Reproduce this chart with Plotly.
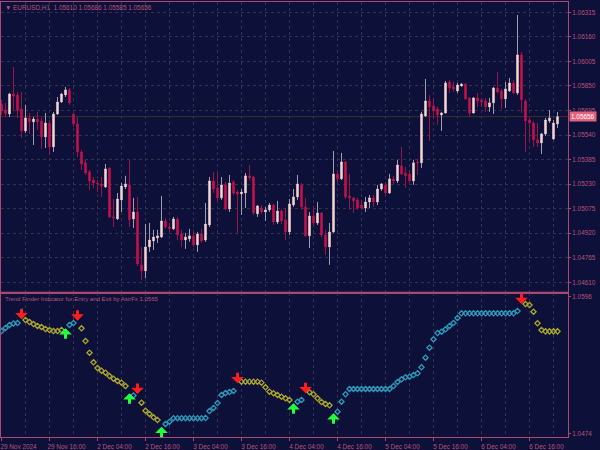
import plotly.graph_objects as go

# ---------------- data ----------------
symbol = "EURUSD,H1"
indicator_name = "Trend Finder Indicator for Entry and Exit by AsirFx"

tick_bars = [0, 12, 24, 36, 48, 60, 72, 84, 96, 108, 120, 132]
tick_labels = ["29 Nov 2024", "29 Nov 16:00", "2 Dec 04:00", "2 Dec 16:00",
               "3 Dec 04:00", "3 Dec 16:00", "4 Dec 04:00", "4 Dec 16:00",
               "5 Dec 04:00", "5 Dec 16:00", "6 Dec 04:00", "6 Dec 16:00"]
grid_bars = [6, 18, 30, 42, 54, 66, 78, 90, 102, 114, 126, 138]
price_ticks = [1.04610, 1.04765, 1.04920, 1.05075, 1.05230, 1.05385,
               1.05540, 1.05695, 1.05850, 1.06005, 1.06160, 1.06315]
ind_ticks = [1.0596, 1.0474]

opens = [1.05736, 1.05698, 1.05673, 1.05799, 1.05793, 1.05705, 1.05566, 1.05648, 1.05623, 1.05641,
         1.05629, 1.05528, 1.05616, 1.05465, 1.05673, 1.05749, 1.05793, 1.05825, 1.05673, 1.05610,
         1.05433, 1.05364, 1.05307, 1.05256, 1.05237, 1.05231, 1.05212, 1.05332, 1.05023, 1.05010,
         1.05130, 1.05212, 1.05225, 1.05010, 1.05054, 1.04720, 1.04682, 1.04833, 1.04871, 1.04890,
         1.04896, 1.04997, 1.04959, 1.04947, 1.05010, 1.04915, 1.04877, 1.04884, 1.04903, 1.04846,
         1.04915, 1.04877, 1.04972, 1.05250, 1.05206, 1.05143, 1.05225, 1.05073, 1.05244, 1.05180,
         1.05168, 1.05174, 1.05282, 1.05275, 1.05042, 1.05079, 1.05054, 1.05067, 1.05098, 1.04991,
         1.05060, 1.05004, 1.04928, 1.05098, 1.05149, 1.05225, 1.05086, 1.04903, 1.05029, 1.04985,
         1.05048, 1.04909, 1.04833, 1.04928, 1.05294, 1.05263, 1.05370, 1.05155, 1.05143, 1.05130,
         1.05098, 1.05079, 1.05117, 1.05143, 1.05117, 1.05199, 1.05225, 1.05174, 1.05263, 1.05250,
         1.05345, 1.05300, 1.05294, 1.05250, 1.05370, 1.05364, 1.05660, 1.05755, 1.05724, 1.05705,
         1.05667, 1.05679, 1.05875, 1.05844, 1.05818, 1.05850, 1.05862, 1.05774, 1.05679, 1.05774,
         1.05762, 1.05755, 1.05717, 1.05743, 1.05837, 1.05818, 1.05768, 1.05818, 1.05869, 1.05806,
         1.06046, 1.05755, 1.05635, 1.05616, 1.05509, 1.05490, 1.05547, 1.05629, 1.05515, 1.05610]
highs = [1.05762, 1.05743, 1.05806, 1.05970, 1.05812, 1.05812, 1.05730, 1.05679, 1.05654, 1.05686,
         1.05648, 1.05679, 1.05635, 1.05686, 1.05780, 1.05806, 1.05844, 1.05837, 1.05679, 1.05654,
         1.05446, 1.05383, 1.05319, 1.05275, 1.05256, 1.05275, 1.05357, 1.05338, 1.05136, 1.05174,
         1.05237, 1.05282, 1.05383, 1.05143, 1.05149, 1.04833, 1.04978, 1.04985, 1.04941, 1.04941,
         1.05155, 1.05016, 1.04985, 1.05023, 1.05023, 1.04941, 1.04922, 1.04947, 1.04928, 1.04928,
         1.04947, 1.05111, 1.05275, 1.05307, 1.05300, 1.05275, 1.05244, 1.05288, 1.05256, 1.05193,
         1.05199, 1.05300, 1.05351, 1.05282, 1.05098, 1.05098, 1.05086, 1.05111, 1.05105, 1.05124,
         1.05073, 1.05079, 1.05136, 1.05199, 1.05288, 1.05237, 1.05143, 1.05054, 1.05092, 1.05117,
         1.05054, 1.04941, 1.04985, 1.05439, 1.05307, 1.05427, 1.05376, 1.05294, 1.05149, 1.05143,
         1.05130, 1.05149, 1.05162, 1.05162, 1.05225, 1.05237, 1.05237, 1.05294, 1.05282, 1.05383,
         1.05465, 1.05338, 1.05319, 1.05383, 1.05389, 1.05686, 1.05894, 1.05793, 1.05774, 1.05717,
         1.05686, 1.05881, 1.05888, 1.05875, 1.05869, 1.05869, 1.05869, 1.05780, 1.05780, 1.05806,
         1.05774, 1.05774, 1.05774, 1.05844, 1.05938, 1.05831, 1.05875, 1.05900, 1.05888, 1.06298,
         1.06065, 1.05768, 1.05648, 1.05629, 1.05616, 1.05553, 1.05648, 1.05698, 1.05635, 1.05686]
lows = [1.05667, 1.05654, 1.05654, 1.05698, 1.05648, 1.05521, 1.05553, 1.05547, 1.05477, 1.05572,
        1.05452, 1.05458, 1.05414, 1.05433, 1.05667, 1.05743, 1.05780, 1.05730, 1.05591, 1.05402,
        1.05319, 1.05288, 1.05193, 1.05206, 1.05180, 1.05149, 1.05206, 1.05016, 1.04959, 1.05004,
        1.05054, 1.05199, 1.04959, 1.04953, 1.04713, 1.04625, 1.04637, 1.04802, 1.04814, 1.04858,
        1.04890, 1.04947, 1.04928, 1.04941, 1.04877, 1.04833, 1.04821, 1.04865, 1.04833, 1.04802,
        1.04858, 1.04865, 1.04959, 1.05174, 1.05117, 1.05130, 1.05067, 1.05054, 1.05162, 1.04922,
        1.05035, 1.05079, 1.05256, 1.05035, 1.05023, 1.05042, 1.04997, 1.05054, 1.04972, 1.04978,
        1.04978, 1.04877, 1.04909, 1.05086, 1.05130, 1.05067, 1.04896, 1.04827, 1.04972, 1.04972,
        1.04896, 1.04783, 1.04720, 1.04922, 1.05244, 1.05256, 1.05136, 1.05067, 1.05048, 1.05067,
        1.05067, 1.05054, 1.05079, 1.05086, 1.05098, 1.05187, 1.05162, 1.05168, 1.05231, 1.05237,
        1.05288, 1.05206, 1.05237, 1.05225, 1.05288, 1.05332, 1.05654, 1.05503, 1.05641, 1.05604,
        1.05566, 1.05679, 1.05806, 1.05812, 1.05806, 1.05844, 1.05762, 1.05654, 1.05679, 1.05717,
        1.05717, 1.05686, 1.05686, 1.05673, 1.05806, 1.05705, 1.05711, 1.05812, 1.05799, 1.05793,
        1.05679, 1.05433, 1.05496, 1.05465, 1.05465, 1.05420, 1.05534, 1.05616, 1.05509, 1.05585]
closes = [1.05692, 1.05676, 1.05799, 1.05784, 1.05695, 1.05566, 1.05648, 1.05623, 1.05641, 1.05623,
          1.05528, 1.05616, 1.05465, 1.05673, 1.05749, 1.05799, 1.05825, 1.05743, 1.05610, 1.05433,
          1.05357, 1.05300, 1.05250, 1.05237, 1.05231, 1.05218, 1.05326, 1.05023, 1.05016, 1.05136,
          1.05218, 1.05231, 1.05004, 1.05054, 1.04726, 1.04682, 1.04833, 1.04877, 1.04896, 1.04903,
          1.04997, 1.04959, 1.04950, 1.05010, 1.04909, 1.04877, 1.04896, 1.04903, 1.04846, 1.04915,
          1.04871, 1.04978, 1.05250, 1.05199, 1.05143, 1.05225, 1.05073, 1.05237, 1.05174, 1.05168,
          1.05180, 1.05282, 1.05269, 1.05048, 1.05092, 1.05054, 1.05067, 1.05098, 1.04991, 1.05060,
          1.04997, 1.04928, 1.05105, 1.05149, 1.05231, 1.05086, 1.04903, 1.05029, 1.04985, 1.05048,
          1.04909, 1.04833, 1.04928, 1.05294, 1.05263, 1.05370, 1.05149, 1.05143, 1.05124, 1.05079,
          1.05079, 1.05117, 1.05143, 1.05117, 1.05199, 1.05231, 1.05174, 1.05263, 1.05250, 1.05351,
          1.05294, 1.05282, 1.05250, 1.05364, 1.05364, 1.05673, 1.05755, 1.05717, 1.05692, 1.05667,
          1.05679, 1.05869, 1.05837, 1.05831, 1.05856, 1.05862, 1.05768, 1.05679, 1.05774, 1.05755,
          1.05749, 1.05717, 1.05743, 1.05837, 1.05812, 1.05768, 1.05831, 1.05869, 1.05806, 1.06046,
          1.05762, 1.05629, 1.05616, 1.05509, 1.05490, 1.05547, 1.05635, 1.05648, 1.05616, 1.05656]

# indicator: trend line values (start bar -> consecutive values)
up_segments = {
    0: [1.05655, 1.05682, 1.05709, 1.05722, 1.05726],
    17: [1.05709, 1.05726],
    33: [1.05082],
    41: [1.04829, 1.04849, 1.04880, 1.04880, 1.04880, 1.04880, 1.04880, 1.04880,
         1.04880, 1.04880, 1.04882],
    52: [1.04944, 1.04971, 1.05015, 1.05087, 1.05104, 1.05113, 1.05122],
    74: [1.05027, 1.05042],
    84: [1.04938, 1.05027, 1.05093, 1.05140, 1.05140, 1.05140, 1.05140, 1.05140,
         1.05140, 1.05140, 1.05140, 1.05140, 1.05140, 1.05140, 1.05166, 1.05202,
         1.05226, 1.05244, 1.05249, 1.05264, 1.05279, 1.05333, 1.05418, 1.05507,
         1.05582, 1.05637, 1.05649, 1.05670, 1.05700, 1.05726, 1.05771, 1.05812,
         1.05812, 1.05812, 1.05812, 1.05812, 1.05812, 1.05812, 1.05812, 1.05812,
         1.05812, 1.05812, 1.05812, 1.05812, 1.05812, 1.05833],
}
down_segments = {
    6: [1.05753, 1.05735, 1.05717, 1.05700, 1.05691, 1.05673, 1.05664, 1.05655,
        1.05655, 1.05664],
    20: [1.05679, 1.05566, 1.05462, 1.05377, 1.05326, 1.05302, 1.05285, 1.05255,
         1.05231, 1.05211, 1.05196, 1.05166],
    35: [1.05018, 1.04947, 1.04918, 1.04888, 1.04864],
    60: [1.05205, 1.05205, 1.05205, 1.05205, 1.05205, 1.05196, 1.05155, 1.05116,
         1.05102, 1.05087, 1.05071, 1.05057, 1.05042],
    77: [1.05111, 1.05093, 1.05057, 1.05024, 1.05007, 1.04995],
    131: [1.05895, 1.05886, 1.05827, 1.05724, 1.05664, 1.05652, 1.05652, 1.05652,
          1.05652],
}
sell_bars = [5, 19, 34, 59, 76, 130]
sell_levels = [1.05759, 1.05747, 1.05095, 1.05190, 1.05102, 1.05895]
buy_bars = [16, 32, 40, 73, 83]
buy_levels = [1.05679, 1.05102, 1.04805, 1.05013, 1.04924]

# ---------------- styles ----------------
BG = "#0d1038"
GRID = "#30324e"
LINE = "#a84a72"
TXT = "#b8547c"
BULL = "#f8d6d6"
BEAR = "#c8124e"
BULL_WICK = "#a29cb2"
BEAR_WICK = "#9a1448"
UP_C = "#2a98b8"
DN_C = "#aaa62a"
FONT = "Liberation Sans, Arial, DejaVu Sans, sans-serif"
FS = 6.4
SPLIT = 0.3317

n = len(opens)
bars = list(range(n))


def build_line(segments):
    vals = [None] * n
    for start, seg in segments.items():
        for k, v in enumerate(seg):
            vals[start + k] = v
    return vals


up_line = build_line(up_segments)
down_line = build_line(down_segments)

body_hi = [max(o, c) for o, c in zip(opens, closes)]
body_lo = [min(o, c) for o, c in zip(opens, closes)]


def wick_xy(bull):
    xs, ys = [], []
    for i in bars:
        if (closes[i] >= opens[i]) != bull:
            continue
        xs += [i, i, None, i, i, None]
        ys += [highs[i], body_hi[i], None, body_lo[i], lows[i], None]
    return xs, ys


fig = go.Figure()
for bull, col in [(True, BULL_WICK), (False, BEAR_WICK)]:
    wx, wy = wick_xy(bull)
    fig.add_trace(go.Scatter(x=wx, y=wy, mode="lines", line=dict(color=col, width=1),
                             hoverinfo="skip", xaxis="x", yaxis="y"))

fig.add_trace(go.Candlestick(
    x=bars, open=opens, close=closes, high=body_hi, low=body_lo,
    increasing=dict(line=dict(color=BULL, width=1), fillcolor=BULL),
    decreasing=dict(line=dict(color=BEAR, width=1), fillcolor=BEAR),
    whiskerwidth=0, xaxis="x", yaxis="y"))

fig.add_trace(go.Scatter(x=bars, y=up_line, mode="markers", xaxis="x2", yaxis="y2",
                         marker=dict(symbol="diamond-open", size=4, color=UP_C,
                                     line=dict(color=UP_C, width=1.3))))
fig.add_trace(go.Scatter(x=bars, y=down_line, mode="markers", xaxis="x2", yaxis="y2",
                         marker=dict(symbol="diamond-open", size=4, color=DN_C,
                                     line=dict(color=DN_C, width=1.3))))

annotations = []
for b, lv in zip(sell_bars, sell_levels):
    annotations.append(dict(x=b, y=lv, xref="x2", yref="y2", text="", showarrow=True,
                            arrowhead=1, arrowsize=0.7, arrowwidth=3, arrowcolor="#ff1c1c",
                            ax=0, ay=-12, standoff=0))
for b, lv in zip(buy_bars, buy_levels):
    annotations.append(dict(x=b, y=lv, xref="x2", yref="y2", text="", showarrow=True,
                            arrowhead=1, arrowsize=0.7, arrowwidth=3, arrowcolor="#22ff3c",
                            ax=0, ay=12, standoff=0))

header = (f"\u25BC {symbol}  {opens[-1]:.5f} {highs[-1]:.5f} "
          f"{lows[-1]:.5f} {closes[-1]:.5f}")
annotations.append(dict(x=0, y=1, xref="paper", yref="paper", xanchor="left", yanchor="top",
                        xshift=2, yshift=0, text=header, showarrow=False,
                        font=dict(size=FS, color=TXT, family=FONT)))
annotations.append(dict(x=0, y=SPLIT, xref="paper", yref="paper", xanchor="left",
                        yanchor="top", xshift=2, yshift=-1,
                        text=f"{indicator_name} {down_line[-1]:.4f}", showarrow=False,
                        font=dict(size=6, color=TXT, family=FONT)))
annotations.append(dict(x=1, y=closes[-1], xref="paper", yref="y", xanchor="left",
                        yanchor="middle", xshift=1, text=f"{closes[-1]:.5f}",
                        showarrow=False, bgcolor="#e0627c", borderpad=1,
                        font=dict(size=FS, color="#ffffff", family=FONT)))

shapes = [
    dict(type="line", xref="paper", yref="y", x0=0, x1=1, y0=closes[-1], y1=closes[-1],
         line=dict(color="#3e302c", width=1), layer="below"),
    dict(type="line", xref="paper", yref="paper", x0=0, x1=1, y0=SPLIT, y1=SPLIT,
         line=dict(color=LINE, width=2)),
]

xgrid = dict(showgrid=True, gridcolor=GRID, griddash="dot", gridwidth=1,
             minor=dict(tickmode="array", tickvals=grid_bars, showgrid=True,
                        gridcolor=GRID, griddash="dot", gridwidth=1),
             showline=True, mirror=True, linecolor=LINE, linewidth=1, zeroline=False,
             range=[-0.125, 141.625], tickmode="array", tickvals=tick_bars)

fig.update_layout(
    width=600, height=450, margin=dict(l=1, r=32, t=2, b=13),
    paper_bgcolor=BG, plot_bgcolor=BG, showlegend=False, boxgap=0.5,
    font=dict(family=FONT, size=FS, color=TXT),
    xaxis=dict(domain=[0, 1], anchor="y", showticklabels=False, ticks="",
               rangeslider=dict(visible=False), **xgrid),
    xaxis2=dict(domain=[0, 1], anchor="y2", matches="x", ticktext=tick_labels,
                ticks="outside", ticklen=3, tickcolor=LINE, ticklabelshift=17,
                ticklabeloverflow="allow",
                tickfont=dict(size=FS, color=TXT), **xgrid),
    yaxis=dict(domain=[SPLIT, 1], anchor="x", side="right", range=[1.04544, 1.06380],
               tickmode="array", tickvals=price_ticks, tickformat=".5f",
               showgrid=True, gridcolor=GRID, griddash="dot", gridwidth=1,
               showline=True, mirror=True, linecolor=LINE, zeroline=False,
               ticks="outside", ticklen=2, tickcolor=LINE, ticklabeloverflow="allow",
               tickfont=dict(size=FS, color=TXT)),
    yaxis2=dict(domain=[0, SPLIT], anchor="x2", side="right", range=[1.04713, 1.059955],
                tickmode="array", tickvals=ind_ticks, tickformat=".4f", showgrid=False,
                showline=True, mirror=True, linecolor=LINE, zeroline=False,
                ticks="outside", ticklen=2, tickcolor=LINE, ticklabeloverflow="allow",
                tickfont=dict(size=FS, color=TXT)),
    annotations=annotations, shapes=shapes,
)

fig.write_html("out.html", config={"displayModeBar": False},
               post_script="document.body.style.margin='0';document.body.style.overflow='hidden';")
